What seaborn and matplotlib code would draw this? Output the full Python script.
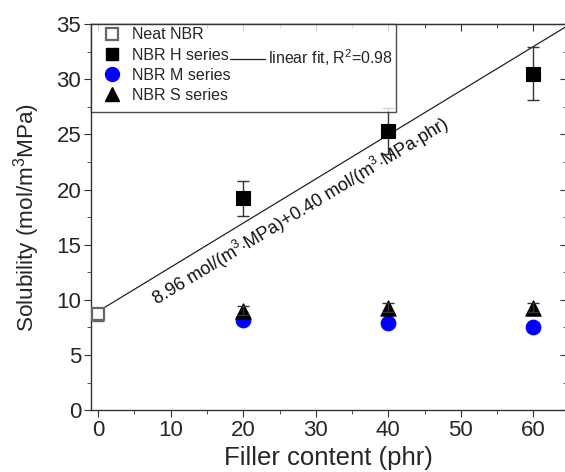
import numpy as np
import pandas as pd
import seaborn as sns
import matplotlib.pyplot as plt
from matplotlib.lines import Line2D

# data
neat_x = [0]
neat_y = [8.7]
neat_err = [0.6]

filler = [20, 40, 60]
h_y = [19.2, 25.3, 30.5]
h_err = [1.6, 2.1, 2.4]
m_y = [8.2, 7.9, 7.5]
m_err = [0.3, 0.3, 0.3]
s_y = [9.0, 9.3, 9.3]
s_err = [0.4, 0.4, 0.4]

fit_a = 8.96
fit_b = 0.40
fit_x = np.array([-1.0, 66.0])

sns.set_style('ticks')
plt.rcParams['font.family'] = ['Liberation Sans', 'DejaVu Sans']
plt.rcParams['mathtext.fontset'] = 'custom'
plt.rcParams['mathtext.rm'] = 'Liberation Sans'

fig = plt.figure(figsize=(5.65, 4.72), dpi=100)
ax = fig.add_axes([0.161, 0.131, 0.842, 0.818])

df = pd.concat([
    pd.DataFrame({'x': neat_x, 'y': neat_y, 'series': 'Neat NBR'}),
    pd.DataFrame({'x': filler, 'y': h_y, 'series': 'NBR H series'}),
    pd.DataFrame({'x': filler, 'y': m_y, 'series': 'NBR M series'}),
    pd.DataFrame({'x': filler, 'y': s_y, 'series': 'NBR S series'}),
])

# fit line
sns.lineplot(x=fit_x, y=fit_a + fit_b * fit_x, color='#222222', lw=0.9, ax=ax, zorder=1)

# error bars
ax.errorbar(neat_x, neat_y, yerr=neat_err, fmt='none', ecolor='#666666', capsize=4, lw=1, zorder=2)
ax.errorbar(filler, h_y, yerr=h_err, fmt='none', ecolor='#333333', capsize=4, lw=1, zorder=2)
ax.errorbar(filler, m_y, yerr=m_err, fmt='none', ecolor='#333333', capsize=4, lw=1, zorder=2)
ax.errorbar(filler, s_y, yerr=s_err, fmt='none', ecolor='#333333', capsize=4, lw=1, zorder=4)

sns.scatterplot(data=df[df.series == 'Neat NBR'], x='x', y='y', marker='s', s=70,
                facecolor='white', edgecolor='#666666', linewidth=1.6, ax=ax, zorder=3, legend=False)
sns.scatterplot(data=df[df.series == 'NBR H series'], x='x', y='y', marker='s', s=95,
                color='black', edgecolor='black', ax=ax, zorder=3, legend=False)
sns.scatterplot(data=df[df.series == 'NBR M series'], x='x', y='y', marker='o', s=110,
                color='#0000ff', edgecolor='#0000ff', ax=ax, zorder=3, legend=False)
sns.scatterplot(data=df[df.series == 'NBR S series'], x='x', y='y', marker='^', s=120,
                color='black', edgecolor='black', ax=ax, zorder=3, legend=False)

ax.set_xlim(-1, 64.6)
ax.set_ylim(0, 35)
ax.set_xticks(np.arange(0, 61, 10))
ax.set_xticks(np.arange(5, 65, 10), minor=True)
ax.set_yticks(np.arange(0, 36, 5))
ax.set_yticks(np.arange(2.5, 35, 5), minor=True)
ax.tick_params(axis='both', which='major', labelsize=16, direction='out', length=5, color='#333333', pad=2)
ax.tick_params(axis='both', which='minor', direction='out', length=3, color='#333333')
for sp in ax.spines.values():
    sp.set_visible(True)
    sp.set_color('#333333')
    sp.set_linewidth(1.0)

# mirrored inward ticks on top and right
top = ax.secondary_xaxis('top')
top.set_xticks(np.arange(0, 61, 10))
top.set_xticks(np.arange(5, 65, 10), minor=True)
top.tick_params(which='major', direction='in', length=5, color='#333333')
top.tick_params(which='minor', direction='in', length=3, color='#333333')
top.set_xticklabels([])
right = ax.secondary_yaxis('right')
right.set_yticks(np.arange(0, 36, 5))
right.set_yticks(np.arange(2.5, 35, 5), minor=True)
right.tick_params(which='major', direction='in', length=5, color='#333333')
right.tick_params(which='minor', direction='in', length=3, color='#333333')
right.set_yticklabels([])

ax.set_xlabel('Filler content (phr)', fontsize=18.5, labelpad=4)
ax.set_ylabel('Solubility (mol/m$^3$MPa)', fontsize=16.2)
ax.yaxis.set_label_coords(-0.103, 0.5)

ax.text(8.5, 9.0, '8.96 mol/(m$^3$$\\cdot$MPa)+0.40 mol/(m$^3$$\\cdot$MPa$\\cdot$phr)',
        rotation=31.3, rotation_mode='anchor', fontsize=13, ha='left', va='bottom', color='#111111')

empty = Line2D([], [], linestyle='none')
handles = [
    Line2D([], [], marker='s', linestyle='none', markersize=8, markerfacecolor='white',
           markeredgecolor='#666666', markeredgewidth=1.6),
    Line2D([], [], marker='s', linestyle='none', markersize=9, color='black'),
    Line2D([], [], marker='o', linestyle='none', markersize=10, color='#0000ff'),
    Line2D([], [], marker='^', linestyle='none', markersize=10, color='black'),
    empty,
    Line2D([], [], color='#222222', lw=0.9),
    empty,
    empty,
]
labels = ['Neat NBR', 'NBR H series', 'NBR M series', 'NBR S series',
          '', 'linear fit, R$^2$=0.98', '', '']
leg = ax.legend(handles, labels, ncol=2, loc='upper left', bbox_to_anchor=(0.0, 1.0),
                fontsize=11.5, frameon=True, fancybox=False, edgecolor='#222222',
                borderaxespad=0.0, handlelength=2.2, handletextpad=0.15, columnspacing=0.0,
                labelspacing=0.33, borderpad=0.2)
leg.get_frame().set_linewidth(1.0)

fig.savefig('out.png', dpi=100)
